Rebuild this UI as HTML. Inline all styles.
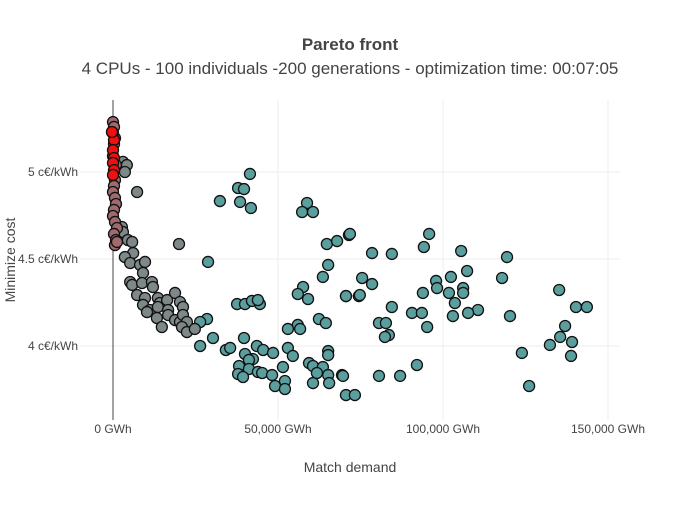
<!DOCTYPE html>
<html><head><meta charset="utf-8"><style>
body{margin:0;background:#fff;width:700px;height:500px;overflow:hidden;font-family:"Liberation Sans",sans-serif}
</style></head><body>
<svg id="chart" width="700" height="500" xmlns="http://www.w3.org/2000/svg">
<text x="350" y="50" text-anchor="middle" font-size="17" font-weight="bold" fill="#444">Pareto front</text>
<text x="350" y="74" text-anchor="middle" font-size="17" fill="#444">4 CPUs - 100 individuals -200 generations - optimization time: 00:07:05</text>
<text x="350" y="472" text-anchor="middle" font-size="14" fill="#444">Match demand</text>
<text transform="translate(15,260) rotate(-90)" text-anchor="middle" font-size="14" fill="#444">Minimize cost</text>
<g id="grid"></g><g id="marks"></g>
</svg>
<script>
// x in thousands of GWh, y in c€/kWh
const xTicks=[0,50,100,150];
const xTickLabels=["0 GWh","50,000 GWh","100,000 GWh","150,000 GWh"];
const yTicks=[4,4.5,5];
const yTickLabels=["4 c€/kWh","4.5 c€/kWh","5 c€/kWh"];
const brownX=[0,0.3,-0.3,0.6,0.3,0,0.9,0.6,0.3,0,0.6,0.9,0.3,0,0.6,1.2,0.3,0.9,0.6,1.2];
const brownY=[5.287,5.259,5.23,5.195,5.161,5.092,5.04,4.954,4.92,4.885,4.851,4.816,4.782,4.747,4.713,4.678,4.644,4.609,4.58,4.598];
const redX=[0,0.3,0,0.3,0,0.3,0,-0.3];
const redY=[5.224,5.184,5.126,5.08,5.052,5.011,4.983,5.23];
const grayX=[3,4.2,3.6,2.7,3,4.5,5.8,6.1,3.6,5.2,8.2,9.7,9.1,5.2,5.8,8.8,11.8,12.1,7.3,9.7,9.1,11.2,10.3,13.6,14.2,16.4,13.6,18.8,20.3,21.2,16.7,13.3,14.8,16.7,18.8,20.3,21.2,22.4,20.9,22.4,24.8,7.3,20];
const grayY=[5.058,5.04,5,4.684,4.655,4.609,4.598,4.534,4.511,4.477,4.466,4.483,4.42,4.368,4.351,4.362,4.368,4.339,4.293,4.276,4.236,4.207,4.195,4.276,4.247,4.264,4.224,4.305,4.253,4.224,4.207,4.161,4.109,4.178,4.149,4.138,4.178,4.138,4.109,4.08,4.098,4.885,4.586];
const tealX=[41.5,37.9,39.7,32.4,38.5,41.8,58.8,57.3,60.6,71.5,64.8,67.9,65.2,63.6,57.6,56,59.1,70.6,74.5,28.8,
37.6,40,42.1,44.5,43.9,62.4,64.5,56,56.7,53,39.7,30.3,28.5,26.4,26.4,34.2,35.5,40,43.6,45.5,48.5,53,54.5,65.2,65.2,42.4,41.2,38.2,41.2,43.9,45.2,37.9,39.4,48.2,51.5,52.1,49.1,52.1,59.4,60.6,63.6,61.8,65.2,65.5,60.6,69.4,70.6,73.3,
71.8,95.8,94.2,105.5,78.5,84.5,119.4,107.3,75.5,102.4,117.9,78.5,97.9,98.2,106.1,70.6,74.8,93.9,101.8,106.1,135.2,103.6,84.5,110.6,140.3,143.6,90.6,93.6,103,107.6,120.3,80.6,82.7,137,95.2,83.6,82.4,135.5,132.4,139.1,123.9,138.8,92.1,69.7,80.6,87,126.1];
const tealY=[4.989,4.908,4.902,4.833,4.828,4.793,4.822,4.77,4.77,4.638,4.586,4.603,4.466,4.397,4.339,4.299,4.27,4.287,4.287,4.483,
4.241,4.241,4.259,4.241,4.264,4.155,4.132,4.121,4.098,4.098,4.046,4.046,4.155,4.138,4,3.977,3.989,3.954,4,3.977,3.96,3.989,3.943,3.971,3.948,3.925,3.92,3.885,3.868,3.851,3.845,3.839,3.822,3.833,3.879,3.799,3.77,3.753,3.902,3.885,3.879,3.845,3.833,3.787,3.787,3.833,3.718,3.718,
4.644,4.644,4.569,4.546,4.534,4.529,4.511,4.431,4.391,4.397,4.391,4.356,4.374,4.333,4.333,4.287,4.293,4.305,4.305,4.305,4.322,4.247,4.224,4.207,4.224,4.224,4.19,4.19,4.172,4.19,4.172,4.132,4.132,4.115,4.109,4.063,4.052,4.052,4.006,4.023,3.96,3.943,3.891,3.828,3.828,3.828,3.77];
const NS="http://www.w3.org/2000/svg";
const L=80,R=620,T=100,B=420;
function sx(v){return 113+v*3.3;}
function sy(v){return 172+(5-v)*174;}
const grid=document.getElementById('grid'),marks=document.getElementById('marks');
function mk(tag,attrs,parent){const e=document.createElementNS(NS,tag);for(const k in attrs)e.setAttribute(k,attrs[k]);parent.appendChild(e);return e;}
xTicks.forEach((t,i)=>{
  if(t!==0){const g=mk('line',{x1:sx(t),x2:sx(t),y1:T,y2:B,stroke:'#eee','stroke-width':1},grid);
  
  }
  const tx=mk('text',{x:sx(t),y:433,'text-anchor':'middle','font-size':12,fill:'#444'},grid);
  tx.textContent=xTickLabels[i];
  
  
});
yTicks.forEach((t,i)=>{
  const g=mk('line',{x1:L,x2:R,y1:sy(t),y2:sy(t),stroke:'#eee','stroke-width':1},grid);
  
  
  const tx=mk('text',{x:L-2,y:sy(t)+4,'text-anchor':'end','font-size':12,fill:'#444'},grid);
  tx.textContent=yTickLabels[i];
  
  
});
const zl=mk('line',{x1:sx(0),x2:sx(0),y1:T,y2:B,stroke:'#444','stroke-width':1},grid);


function draw(xs,ys,fill,name){
  xs.forEach((x,i)=>{
    const c=mk('circle',{cx:sx(x),cy:sy(ys[i]),r:5.5,fill:fill,stroke:'#111','stroke-width':1.3},marks);
    
    
  });
}
draw(tealX,tealY,'#5a9e9e','point-teal');
draw(grayX,grayY,'#7e8888','point-gray');
draw(brownX,brownY,'#a06a6e','point-brown');
draw(redX,redY,'#f01010','point-red');
</script>
</body></html>
